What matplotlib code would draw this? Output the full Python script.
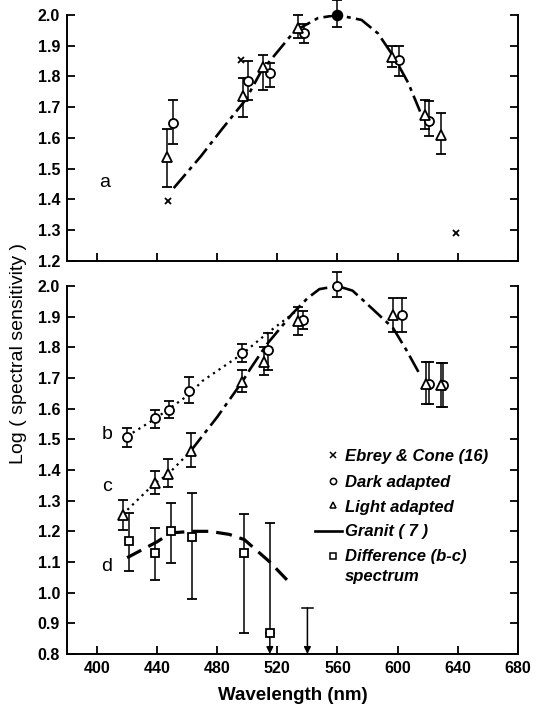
import matplotlib
matplotlib.use("Agg")
import matplotlib.pyplot as plt
import numpy as np

plt.rcParams['font.family'] = ['Liberation Sans', 'DejaVu Sans']

# ---- panel a (top) ----
a_dark_x = [450.7, 500.7, 515, 538, 601, 621]
a_dark_y = [1.65, 1.786, 1.81, 1.94, 1.855, 1.654]
a_dark_lo = [1.58, 1.725, 1.767, 1.91, 1.80, 1.605]
a_dark_hi = [1.725, 1.85, 1.845, 1.97, 1.90, 1.72]

a_light_x = [446.7, 497, 510.7, 534, 596, 618, 629]
a_light_y = [1.537, 1.735, 1.83, 1.958, 1.864, 1.676, 1.61]
a_light_lo = [1.44, 1.667, 1.757, 1.925, 1.83, 1.628, 1.547]
a_light_hi = [1.628, 1.795, 1.87, 2.0, 1.9, 1.725, 1.68]

a_peak_x = [560]
a_peak_y = [2.0]
a_peak_lo = [1.96]
a_peak_hi = [2.05]

ebrey_x = [447, 496, 639]
ebrey_y = [1.395, 1.855, 1.29]

granit_a_x = [451, 469, 483, 499, 509, 531, 536, 547, 560, 576, 587, 598, 607, 615]
granit_a_y = [1.437, 1.54, 1.628, 1.725, 1.815, 1.945, 1.96, 1.99, 2.0, 1.984, 1.94, 1.86, 1.78, 1.686]

# ---- panel b/c/d (bottom) ----
b_x = [420, 438.5, 448, 461, 496.5, 514, 537, 560, 603, 621, 630]
b_y = [1.508, 1.57, 1.596, 1.658, 1.78, 1.79, 1.889, 2.0, 1.905, 1.68, 1.678]
b_lo = [1.476, 1.537, 1.57, 1.62, 1.753, 1.727, 1.86, 1.965, 1.85, 1.616, 1.606]
b_hi = [1.537, 1.596, 1.625, 1.704, 1.81, 1.847, 1.92, 2.045, 1.96, 1.753, 1.75]

c_x = [417, 438.5, 447, 462.5, 496.5, 511, 533.7, 597, 619, 629]
c_y = [1.254, 1.358, 1.388, 1.463, 1.687, 1.753, 1.886, 1.905, 1.68, 1.678]
c_lo = [1.205, 1.322, 1.345, 1.41, 1.655, 1.71, 1.84, 1.85, 1.616, 1.606]
c_hi = [1.303, 1.397, 1.436, 1.52, 1.726, 1.80, 1.93, 1.96, 1.753, 1.75]

d_x = [421, 438.5, 449, 463, 498, 515]
d_y = [1.17, 1.13, 1.2, 1.18, 1.13, 0.87]
d_lo = [1.072, 1.042, 1.098, 0.98, 0.867, 0.87]
d_hi = [1.26, 1.21, 1.293, 1.326, 1.257, 1.228]

limit_x = [515, 540]
limit_top = [0.87, 0.95]

b_fit_x = [420, 438, 448, 461, 470, 497, 513, 533]
b_fit_y = [1.51, 1.565, 1.60, 1.645, 1.69, 1.78, 1.845, 1.92]
c_fit_x = [417, 438, 447, 462]
c_fit_y = [1.255, 1.355, 1.385, 1.46]
granit_b_x = [462, 480, 496.5, 502, 513, 530, 540, 548, 560, 570, 577, 597, 606, 615]
granit_b_y = [1.46, 1.573, 1.687, 1.73, 1.81, 1.91, 1.96, 1.99, 2.0, 1.985, 1.954, 1.863, 1.79, 1.71]
granit_d_x = [420, 440, 449, 464, 475, 488, 498, 515, 530]
granit_d_y = [1.114, 1.166, 1.195, 1.2, 1.2, 1.19, 1.173, 1.10, 1.023]

GRANIT_DASH = (0, (7, 2, 1.5, 2))
tickfont = dict(family='Liberation Sans', weight='bold', size=11.5)


def errpts(ax, x, y, lo, hi, marker, fc='white', ms=6.5):
    y = np.array(y)
    yerr = [y - np.array(lo), np.array(hi) - y]
    ax.errorbar(x, y, yerr=yerr, fmt=marker, mfc=fc, mec='k', ms=ms, mew=1.3,
                ecolor='k', elinewidth=1.1, capsize=3.5, capthick=1.1,
                clip_on=False, zorder=3)


def style_axes(ax, ylo, labels_x):
    ax.set_xlim(380, 680)
    ax.set_ylim(ylo, 2.0)
    ax.spines['top'].set_visible(False)
    for s in ['left', 'right', 'bottom']:
        ax.spines[s].set_linewidth(1.4)
    ax.set_xticks(np.arange(400, 681, 40))
    ax.set_yticks(np.round(np.arange(ylo, 2.001, 0.1), 1))
    ax.tick_params(direction='in', length=6, width=1.3, right=True, top=False, pad=5)
    ax.set_yticklabels(['%.1f' % v for v in ax.get_yticks()], fontdict=tickfont)
    if labels_x:
        ax.set_xticklabels([str(int(v)) for v in ax.get_xticks()], fontdict=tickfont)
    else:
        ax.set_xticklabels([])


fig = plt.figure(figsize=(5.36, 7.08), dpi=100)
ax1 = fig.add_axes([0.125, 0.6314, 0.841, 0.3474])
ax2 = fig.add_axes([0.125, 0.0763, 0.841, 0.5197])

# top panel
ax1.plot(granit_a_x, granit_a_y, color='k', lw=1.9, ls=GRANIT_DASH, zorder=2)
errpts(ax1, a_dark_x, a_dark_y, a_dark_lo, a_dark_hi, 'o')
errpts(ax1, a_light_x, a_light_y, a_light_lo, a_light_hi, '^')
errpts(ax1, a_peak_x, a_peak_y, a_peak_lo, a_peak_hi, 'o', fc='k', ms=7)
ax1.plot(ebrey_x, ebrey_y, 'x', color='k', ms=5, mew=1.3, clip_on=False)
ax1.text(405, 1.455, 'a', fontsize=14, ha='center', va='center')
style_axes(ax1, 1.2, False)

# bottom panel
ax2.plot(b_fit_x, b_fit_y, color='k', lw=1.6, ls=(0, (1, 2)), zorder=2)
ax2.plot(c_fit_x, c_fit_y, color='k', lw=1.6, ls=(0, (1, 2)), zorder=2)
ax2.plot(granit_b_x, granit_b_y, color='k', lw=1.9, ls=GRANIT_DASH, zorder=2)
ax2.plot(granit_d_x, granit_d_y, color='k', lw=2.3, ls=(0, (5, 2.5)), zorder=2)
errpts(ax2, b_x, b_y, b_lo, b_hi, 'o')
errpts(ax2, c_x, c_y, c_lo, c_hi, '^')
errpts(ax2, d_x, d_y, d_lo, d_hi, 's', ms=5.5)
for lx, lt in zip(limit_x, limit_top):
    ax2.annotate('', xy=(lx, 0.8), xytext=(lx, lt),
                 arrowprops=dict(arrowstyle='-|>', color='k', lw=1.1,
                                 mutation_scale=10, shrinkA=0, shrinkB=0))
ax2.plot([536.5, 543.5], [0.95, 0.95], color='k', lw=1.1)

for lab, yv in zip(['b', 'c', 'd'], [1.515, 1.345, 1.085]):
    ax2.text(406.5, yv, lab, fontsize=14, ha='center', va='center')

# legend drawn as text
lfont = dict(style='italic', weight='bold', fontsize=12, va='center')
ax2.plot([557], [1.45], 'x', color='k', ms=4.5, mew=1.1)
ax2.text(565, 1.445, 'Ebrey & Cone (16)', **lfont)
ax2.plot([557], [1.365], 'o', mfc='white', mec='k', ms=4.5, mew=1.1)
ax2.text(565, 1.36, 'Dark adapted', **lfont)
ax2.plot([557], [1.285], '^', mfc='white', mec='k', ms=4.5, mew=1.1)
ax2.text(565, 1.277, 'Light adapted', **lfont)
ax2.plot([545, 563], [1.2, 1.2], color='k', lw=1.9)
ax2.text(565, 1.2, 'Granit ( 7 )', **lfont)
ax2.plot([557], [1.12], 's', mfc='white', mec='k', ms=4, mew=1.1)
ax2.text(565, 1.117, 'Difference (b-c)', **lfont)
ax2.text(565, 1.052, 'spectrum', **lfont)

style_axes(ax2, 0.8, True)
ax2.set_xlabel('Wavelength (nm)', fontsize=13.5, weight='bold', labelpad=8)
fig.text(0.035, 0.5, 'Log ( spectral sensitivity )', rotation=90,
         fontsize=14, ha='center', va='center')

fig.savefig('out.png', dpi=100)
